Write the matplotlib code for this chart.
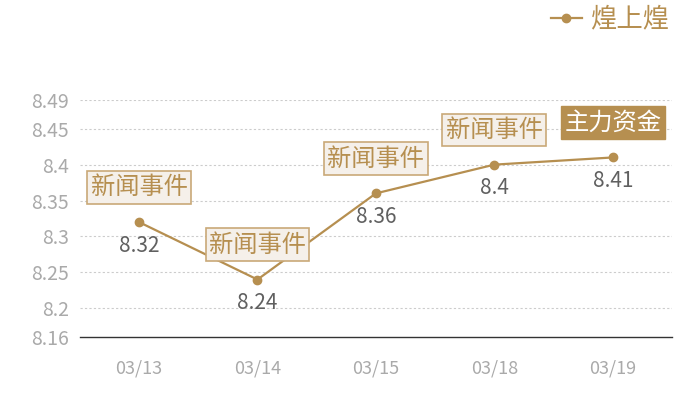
import matplotlib.pyplot as plt

plt.rcParams['font.family'] = ['Noto Sans CJK SC', 'DejaVu Sans']

dates = ["03/13", "03/14", "03/15", "03/18", "03/19"]
prices = [8.32, 8.24, 8.36, 8.4, 8.41]
events = ["新闻事件", "新闻事件", "新闻事件", "新闻事件", "主力资金"]
yticks = [8.16, 8.2, 8.25, 8.3, 8.35, 8.4, 8.45, 8.49]

gold = "#b68f50"
fig = plt.figure(figsize=(7, 4), dpi=100)
ax = fig.add_axes([0.114, 0.1575, 0.846, 0.5925])

x = list(range(len(dates)))
ax.plot(x, prices, color=gold, lw=1.6, marker='o', ms=6, zorder=3, label="煌上煌")

for xi, v, ev in zip(x, prices, events):
    ax.annotate(str(v), (xi, v), xytext=(0, -17), textcoords='offset points',
                ha='center', va='center', fontsize=15, color='#606060', zorder=4)
    if ev == "主力资金":
        box = dict(boxstyle='square,pad=0.14', fc=gold, ec=gold, lw=1)
        tc = 'white'
    else:
        box = dict(boxstyle='square,pad=0.14', fc='#f5f0ea', ec='#c9a978', lw=1.2)
        tc = gold
    ax.annotate(ev, (xi, v), xytext=(0, 25), textcoords='offset points',
                ha='center', va='center', fontsize=17.5, color=tc, bbox=box, zorder=5)

ax.set_xlim(-0.5, len(dates) - 0.5)
ax.set_ylim(8.16, 8.49)
ax.set_yticks(yticks)
ax.set_yticklabels([str(t) for t in yticks])
ax.set_xticks(x)
ax.set_xticklabels(dates)
ax.tick_params(axis='y', length=0, pad=8, labelsize=14, labelcolor='#aaaaaa')
ax.tick_params(axis='x', length=0, pad=16, labelsize=13, labelcolor='#aaaaaa')
for t in yticks[1:]:
    ax.axhline(t, color='#cccccc', lw=0.8, ls=(0, (2, 2)), zorder=1)
for s in ['top', 'right', 'left']:
    ax.spines[s].set_visible(False)
ax.spines['bottom'].set_color('#333333')
ax.spines['bottom'].set_linewidth(1)

leg = fig.legend(loc='upper right', bbox_to_anchor=(0.99, 1.045), frameon=False,
                 fontsize=19, handlelength=1.2, handletextpad=0.3)
for txt in leg.get_texts():
    txt.set_color(gold)

fig.savefig("out.png")
